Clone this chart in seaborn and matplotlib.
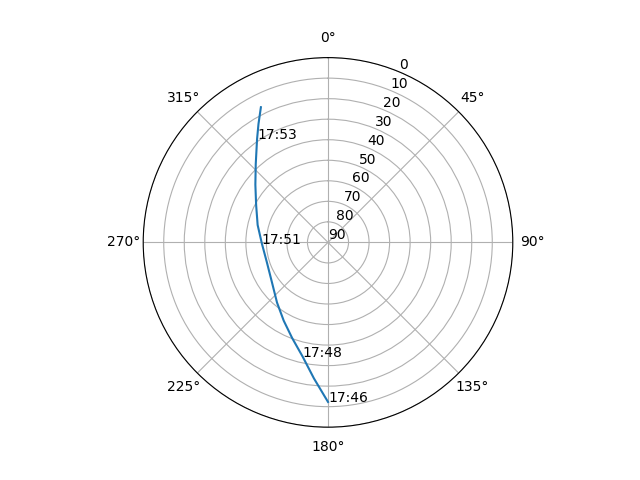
import numpy as np
import seaborn as sns
import matplotlib
matplotlib.use("Agg")
import matplotlib.pyplot as plt

# satellite pass: azimuth (deg) and elevation (deg)
azimuth = [180.0, 185.9, 192.5, 200.6, 209.5, 220.3, 234.6, 252.1,
           268.9, 283.9, 297.6, 308.5, 317.2, 325.5, 329.6, 333.6]
elevation = [12.3, 23.4, 33.0, 40.3, 46.2, 51.6, 56.5, 58.7,
             57.8, 54.7, 50.5, 44.8, 38.2, 29.0, 23.1, 16.5]

# time labels and the index of the point they belong to
label_idx = [0, 2, 8, 13]
label_txt = ["17:46", "17:48", "17:51", "17:53"]

r_ticks = list(range(0, 91, 10))

fig = plt.figure(figsize=(6.4, 4.8), dpi=100)
ax = fig.add_subplot(111, projection="polar")

theta = np.deg2rad(azimuth)
sns.lineplot(x=theta, y=elevation, ax=ax, sort=False, estimator=None, color="C0")

for i, txt in zip(label_idx, label_txt):
    ax.text(theta[i], elevation[i], txt)

ax.set_theta_zero_location("N")
ax.set_theta_direction(-1)
ax.set_yticks(r_ticks)
ax.set_ylim(90, 0)
ax.set_xlabel("")
ax.set_ylabel("")
ax.grid(True)

plt.savefig("out.png", dpi=100)
plt.close()
